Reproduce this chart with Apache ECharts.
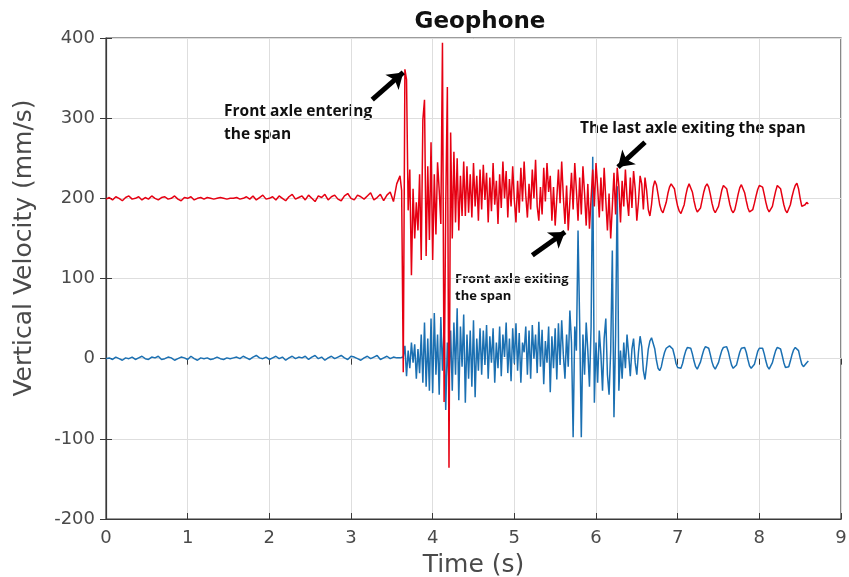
<!DOCTYPE html>
<html>
<head>
<meta charset="utf-8">
<script src="https://cdn.jsdelivr.net/npm/echarts@6/dist/echarts.min.js"></script>
<style>
  html, body { margin: 0; padding: 0; background: #fff; }
  #chart { width: 849px; height: 577px; }
</style>
</head>
<body>
<div id="chart"></div>
<script>
// Axis ticks
const xTicks = [0, 1, 2, 3, 4, 5, 6, 7, 8, 9];
const yTicks = [-200, -100, 0, 100, 200, 300, 400];

// Sampling: quiet part before the vehicle arrives, then the active record
const quietStart = 0, quietStep = 0.04;
const activeStart = 3.60, activeStep = 0.02;

// Red trace (offset +200 mm/s), quiet part 0 - 3.56 s
const redQuiet = [
  199, 201, 198, 202, 200, 197, 201, 203, 199, 200,
  202, 198, 201, 199, 203, 200, 198, 201, 202, 199,
  200, 203, 199, 197, 201, 200, 202, 198, 200, 201,
  199, 201, 200, 199, 200, 201, 200, 199, 200, 200,
  201, 199, 200, 202, 199, 203, 198, 201, 204, 199,
  200, 202, 198, 203, 200, 197, 202, 205, 199, 201,
  203, 198, 204, 200, 196, 203, 201, 205, 198, 202,
  204, 199, 197, 203, 206, 200, 198, 204, 202, 199,
  203, 207, 198, 201, 205, 197, 204, 208, 196, 218
];
// Red trace, active part 3.60 - 8.60 s
const redActive = [
  228, 210, -17, 361, 348, 185, 236, 104, 212, 150,
  195, 160, 230, 123, 298, 323, 128, 240, 148, 270,
  123, 230, 155, 245, 210, 168, 394, -54, 190, 339,
  -136, 282, 150, 258, 170, 250, 160, 228, 178, 246,
  178, 240, 182, 230, 176, 244, 190, 228, 172, 236,
  186, 242, 198, 232, 170, 226, 184, 244, 192, 222,
  168, 230, 188, 246, 200, 234, 176, 224, 190, 240,
  198, 170, 222, 182, 238, 196, 246, 204, 176, 218,
  186, 236, 200, 248, 190, 172, 214, 180, 238, 196,
  244, 208, 228, 172, 214, 166, 200, 236, 194, 246,
  202, 168, 216, 160, 196, 232, 186, 244, 210, 172,
  226, 180, 240, 206, 166, 218, 162, 200, 236, 190,
  244, 214, 176, 226, 184, 238, 198, 160, 206, 150,
  190, 232, 180, 238, 215, 170, 222, 190, 236, 200,
  178, 226, 188, 234, 212, 172, 196, 228, 218, 186,
  226, 210, 186, 178, 192, 214, 222, 217, 205, 192,
  185, 182, 184, 195, 206, 214, 218, 219, 212, 200,
  190, 184, 181, 183, 192, 204, 213, 218, 216, 208,
  197, 188, 183, 182, 188, 198, 208, 215, 218, 214,
  205, 194, 186, 182, 183, 190, 200, 210, 216, 218,
  212, 202, 192, 185, 182, 186, 195, 205, 213, 217,
  215, 207, 197, 188, 183, 182, 186, 194, 203, 211,
  216, 218, 214, 205, 195, 187, 183, 184, 190, 200,
  209, 216, 218, 212, 202, 192, 185, 182, 184, 192,
  202, 210, 216, 219, 212, 200, 190, 188, 192, 195,
  193
];

// Blue trace, quiet part 0 - 3.56 s
const blueQuiet = [
  0, 1, -1, 2, 0, -2, 1, 0, 2, -1,
  1, 3, 0, -1, 2, 1, 3, -1, 0, 2,
  1, -2, 0, 2, 1, -1, 3, 0, -2, 1,
  0, 1, -1, 0, 2, 0, -1, 1, 0, 1,
  2, 0, 3, 1, -1, 2, 4, 1, 0, 2,
  -1, 1, 3, 0, 2, -2, 1, 3, 0, 2,
  1, 3, -1, 2, 4, 0, 2, -2, 1, 3,
  0, 2, 4, 1, -1, 3, 2, 0, -2, 1,
  3, 0, 2, 4, -1, 1, 3, 0, 2, 1
];
// Blue trace, active part 3.60 - 8.60 s
const blueActive = [
  1, -1, 2, 16, -22, 10, -12, 20, -5, 18,
  -25, 12, -18, 30, -30, 45, -35, 25, -40, 50,
  -43, 57, -20, 30, -45, 52, -15, 40, -64, 20,
  -30, 35, -40, 45, -20, 63, -52, 40, -10, 55,
  -55, 30, -25, 35, -35, 48, -48, 25, -15, 38,
  -20, 35, -8, 42, -25, 28, -5, 38, -30, 20,
  -12, 40, -22, 30, 2, 45, -18, 25, -28, 38,
  -6, 44, -15, 32, -30, 20, 8, 40, -20, 35,
  -25, 42, 0, 30, -18, 46, -10, 36, -32, 22,
  -5, 40, -42, 28, -12, 38, -26, 44, -8, 48,
  5, -25, 30, -10, 60, 20, -98, 40, 10, 160,
  45, -98, 30, -20, 45, 10, -35, 40, 252, -55,
  20, -30, 35, 5, -40, 25, 50, -20, -45, 10,
  135, -73, 30, 215, -40, 10, -25, 20, -12, 30,
  5, -22, 12, 25, -5, -20, 8, 28, 15, -15,
  -26, -8, 12, 22, 26, 24, 12, -2, -12, -15,
  -10, 0, 8, 13, 15, 16, 16, 12, 4, -6,
  -11, -13, -12, -6, 3, 10, 14, 16, 13, 6,
  -3, -10, -13, -11, -4, 4, 11, 15, 16, 13,
  5, -4, -10, -13, -11, -5, 3, 10, 14, 16,
  15, 9, 0, -8, -12, -13, -8, 0, 8, 13,
  15, 14, 8, -1, -9, -12, -12, -7, 1, 9,
  13, 15, 13, 6, -3, -10, -13, -11, -5, 3,
  10, 14, 15, 12, 4, -5, -11, -13, -10, -3,
  5, 11, 14, 15, 10, 1, -7, -10, -8, -5,
  -3
];

// Annotation arrows: [tail, head] in (time, velocity)
const arrowEntering = [[3.26, 323], [3.64, 357]];
const arrowLastExit = [[6.60, 270], [6.27, 239]];
const arrowFrontExit = [[5.22, 129], [5.62, 158]];

function pairs(start, step, values) {
  return values.map((v, i) => [+(start + i * step).toFixed(2), v]);
}
const redData = pairs(quietStart, quietStep, redQuiet).concat(pairs(activeStart, activeStep, redActive));
const blueData = pairs(quietStart, quietStep, blueQuiet).concat(pairs(activeStart, activeStep, blueActive));

const axisColor = '#3a3a3a';
const labelColor = '#4a4a4a';
const gridColor = '#dedede';

const chart = echarts.init(document.getElementById('chart'), null, { renderer: 'canvas' });

const arrow = (pts) => [
  { coord: pts[0], symbol: 'none' },
  { coord: pts[1], symbol: 'arrow', symbolSize: 15 }
];

chart.setOption({
  animation: false,
  backgroundColor: '#ffffff',
  title: {
    text: 'Geophone',
    left: 475,
    top: 6,
    textAlign: 'center',
    textStyle: { fontFamily: 'DejaVu Sans', fontWeight: 'bold', fontSize: 23, color: '#111' }
  },
  grid: {
    left: 106, right: 8, top: 38, bottom: 58,
    outerBoundsMode: 'none',
    show: true, borderColor: axisColor, borderWidth: 1.2, backgroundColor: 'transparent'
  },
  xAxis: [{
    type: 'value', min: 0, max: 9, interval: 1,
    name: 'Time (s)', nameLocation: 'middle', nameGap: 34,
    nameTextStyle: { fontFamily: 'DejaVu Sans', fontSize: 25, color: labelColor },
    axisLine: { show: true, onZero: false, lineStyle: { color: axisColor, width: 1.2 } },
    axisTick: { show: true, inside: true, length: 6, lineStyle: { color: axisColor } },
    axisLabel: { fontFamily: 'DejaVu Sans', fontSize: 18, color: labelColor, margin: 10,
      formatter: (v) => String(xTicks[xTicks.indexOf(v)]) },
    splitLine: { show: true, lineStyle: { color: gridColor, width: 1 } }
  }, {
    type: 'value', position: 'top', min: 0, max: 9, interval: 1,
    axisLine: { show: false },
    axisTick: { show: true, inside: true, length: 6, lineStyle: { color: axisColor } },
    axisLabel: { show: false }, splitLine: { show: false }
  }],
  yAxis: [{
    type: 'value', min: -200, max: 400, interval: 100,
    axisLine: { show: true, onZero: false, lineStyle: { color: axisColor, width: 1.2 } },
    axisTick: { show: true, inside: true, length: 6, lineStyle: { color: axisColor } },
    axisLabel: { fontFamily: 'DejaVu Sans', fontSize: 18, color: labelColor, margin: 11,
      formatter: (v) => String(yTicks[yTicks.indexOf(v)]) },
    splitLine: { show: true, lineStyle: { color: gridColor, width: 1 } }
  }, {
    type: 'value', position: 'right', min: -200, max: 400, interval: 100,
    axisLine: { show: false },
    axisTick: { show: true, inside: true, length: 6, lineStyle: { color: axisColor } },
    axisLabel: { show: false }, splitLine: { show: false }
  }],
  series: [{
    name: 'offset', type: 'line', data: redData, showSymbol: false,
    lineStyle: { color: '#e60012', width: 1.5 }, z: 3,
    markLine: {
      silent: true, animation: false,
      lineStyle: { color: '#000', width: 5, type: 'solid' },
      label: { show: false },
      data: [arrow(arrowEntering), arrow(arrowLastExit), arrow(arrowFrontExit)]
    }
  }, {
    name: 'raw', type: 'line', data: blueData, showSymbol: false,
    lineStyle: { color: '#1b70b2', width: 1.5 }, z: 2
  }],
  graphic: [
    { type: 'text', x: 24, y: 248, rotation: Math.PI / 2,
      style: { text: 'Vertical Velocity (mm/s)', font: '25px "DejaVu Sans"', fill: labelColor, align: 'center', verticalAlign: 'middle' } },
    { type: 'text', left: 224, top: 100, style: { text: 'Front axle entering\nthe span', font: 'bold 15.5px "Open Sans"', fill: '#111', lineHeight: 23 } },
    { type: 'text', left: 580, top: 120, style: { text: 'The last axle exiting the span', font: 'bold 15.5px "Open Sans"', fill: '#111', lineHeight: 18 } },
    { type: 'text', left: 455, top: 271, style: { text: 'Front axle exiting\nthe span', font: 'bold 13px "Open Sans"', fill: '#111', lineHeight: 17 } }
  ]
});
</script>
</body>
</html>
